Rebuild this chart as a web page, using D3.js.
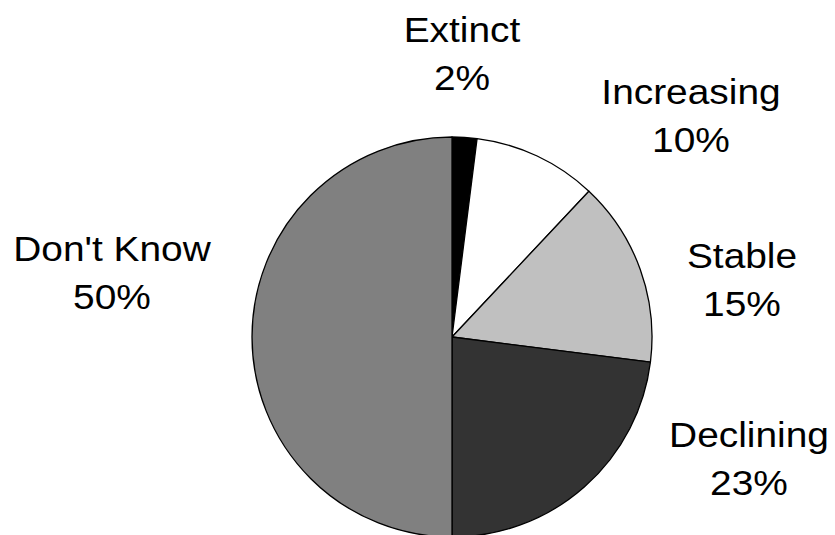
<!DOCTYPE html>
<html>
<head>
<meta charset="utf-8">
<script src="https://cdn.jsdelivr.net/npm/d3@7"></script>
<style>
  html, body { margin: 0; padding: 0; background: #fff; }
  svg { display: block; }
  text { font-family: "Liberation Sans", Arial, Helvetica, sans-serif; fill: #000; }
</style>
</head>
<body>
<svg id="chart" width="835" height="535"></svg>
<script>
// Population trend shares
const categories = ["Extinct", "Increasing", "Stable", "Declining", "Don't Know"];
const values = [2, 10, 15, 23, 50];
const colors = ["#000000", "#ffffff", "#c0c0c0", "#333333", "#808080"];
// Label anchor (centre x, first baseline y) for each slice
const labelX = [462, 691, 742, 749, 112];
const labelY = [42, 104, 268, 447, 261];

const width = 835, height = 535;
const cx = 452, cy = 337, radius = 200;

const svg = d3.select("#chart");
const g = svg.append("g").attr("transform", `translate(${cx},${cy})`);

const pie = d3.pie().sort(null).value(d => d.value);
const arc = d3.arc().innerRadius(0).outerRadius(radius);

const data = categories.map((c, i) => ({ name: c, value: values[i], color: colors[i], lx: labelX[i], ly: labelY[i] }));

g.selectAll("path")
  .data(pie(data))
  .join("path")
  .attr("d", arc)
  .attr("fill", d => d.data.color)
  .attr("stroke", "#000")
  .attr("stroke-width", 1.3)
  .attr("stroke-linejoin", "round");

const fmt = d3.format(".0%");
const total = d3.sum(values);

const labels = svg.append("g").selectAll("text")
  .data(data)
  .join("text")
  .attr("text-anchor", "middle")
  .attr("font-size", 36)
  .attr("transform", d => `translate(${d.lx},${d.ly}) scale(1.08,1)`);

labels.append("tspan").attr("x", 0).attr("y", 0).text(d => d.name);
labels.append("tspan").attr("x", 0).attr("y", 48).text(d => fmt(d.value / total));
</script>
</body>
</html>
